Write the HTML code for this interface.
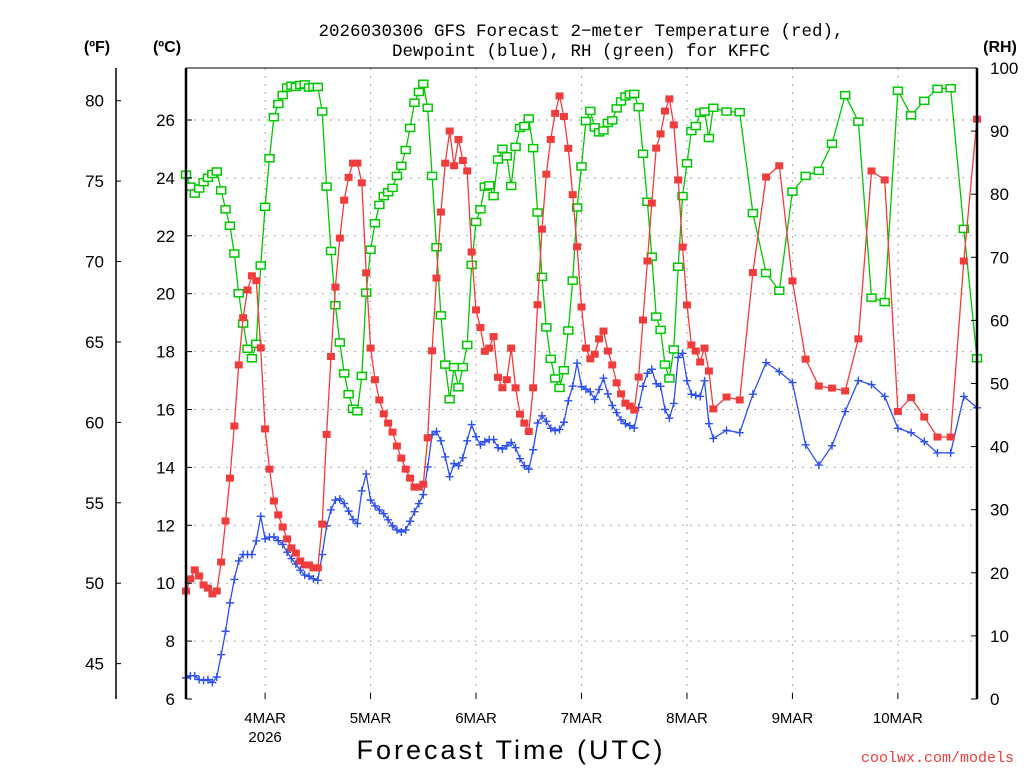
<!DOCTYPE html>
<html><head><meta charset="utf-8"><style>
html,body{margin:0;padding:0;background:#fff;}
svg{display:block;font-family:"Liberation Sans",sans-serif;}
</style></head><body>
<svg id="chart" width="1024" height="768" viewBox="0 0 1024 768">
<g id="grid"></g>
<g id="series"></g>
<g id="axes"></g>
<text x="581" y="36" text-anchor="middle" font-size="17.5" font-family="Liberation Mono, monospace">2026030306 GFS Forecast 2−meter Temperature (red),</text>
<text x="581" y="56" text-anchor="middle" font-size="17.5" font-family="Liberation Mono, monospace">Dewpoint (blue), RH (green) for KFFC</text>
<text x="97" y="52" text-anchor="middle" font-size="16" font-weight="bold">(ºF)</text>
<text x="167" y="52" text-anchor="middle" font-size="16" font-weight="bold">(ºC)</text>
<text x="1000" y="52" text-anchor="middle" font-size="16" font-weight="bold">(RH)</text>
<text x="511" y="759" text-anchor="middle" font-size="27" letter-spacing="3">Forecast Time (UTC)</text>
<text x="1014" y="762" text-anchor="end" font-size="15" fill="#f03c3c" font-family="Liberation Mono, monospace">coolwx.com/models</text>
</svg>
<script>
const hours=[0,1,2,3,4,5,6,7,8,9,10,11,12,13,14,15,16,17,18,19,20,21,22,23,24,25,26,27,28,29,30,31,32,33,34,35,36,37,38,39,40,41,42,43,44,45,46,47,48,49,50,51,52,53,54,55,56,57,58,59,60,61,62,63,64,65,66,67,68,69,70,71,72,73,74,75,76,77,78,79,80,81,82,83,84,85,86,87,88,89,90,91,92,93,94,95,96,97,98,99,100,101,102,103,104,105,106,107,108,109,110,111,112,113,114,115,116,117,118,119,120,123,126,129,132,135,138,141,144,147,150,153,156,159,162,165,168,171,174,177,180];
const tempC=[9.73,10.15,10.46,10.25,9.94,9.83,9.63,9.73,10.73,12.15,13.63,15.43,17.54,19.17,20.13,20.62,20.45,18.13,15.33,13.94,12.84,12.36,11.94,11.53,11.22,11.04,10.77,10.63,10.63,10.53,10.53,
12.04,15.14,17.83,20.23,21.92,23.23,24.02,24.51,24.51,23.83,20.72,18.12,17.03,16.33,15.85,15.53,15.22,14.74,14.32,13.94,13.63,13.32,13.32,13.42,15.02,18.03,20.54,22.82,24.51,25.62,24.42,25.33,
24.60,24.24,21.44,19.44,18.83,18.01,18.12,18.52,17.11,16.75,17.03,18.12,16.75,15.84,15.53,15.24,16.75,19.62,22.23,24.13,25.33,26.23,26.83,26.12,25.02,23.42,21.62,19.54,18.12,17.75,17.91,
18.44,18.71,18.02,17.54,16.92,16.54,16.22,16.12,15.98,17.12,19.09,21.13,23.13,25.03,25.52,26.31,26.73,25.83,23.93,21.61,19.61,18.23,18.02,17.64,18.12,17.33,16.02,
16.43,16.33,20.73,24.03,24.42,20.44,17.74,16.81,16.74,16.64,18.44,24.24,23.93,15.93,16.41,15.74,15.05,15.05,21.13,26.03];
const dewC=[6.73,6.80,6.80,6.67,6.64,6.67,6.57,6.76,7.53,8.34,9.32,10.13,10.77,10.99,10.99,10.99,11.46,12.31,11.53,11.59,11.60,11.47,11.34,11.07,10.85,10.66,10.45,10.28,10.24,10.15,10.10,
10.99,11.98,12.53,12.87,12.91,12.75,12.49,12.20,12.06,13.19,13.77,12.87,12.67,12.53,12.40,12.19,11.98,11.84,11.77,11.84,12.14,12.47,12.75,13.06,14.01,15.13,15.24,14.92,14.36,13.68,14.13,14.06,
14.33,14.92,15.48,15.06,14.78,14.89,14.96,14.96,14.68,14.64,14.75,14.86,14.68,14.30,14.06,13.94,14.61,15.53,15.78,15.59,15.35,15.27,15.31,15.56,16.30,16.81,17.60,16.79,16.70,16.61,16.35,
16.69,17.08,16.54,16.14,15.89,15.64,15.51,15.44,15.36,16.07,16.80,17.25,17.39,16.89,16.80,16.00,15.70,16.21,17.80,17.94,16.99,16.53,16.49,16.45,16.99,15.51,15.00,
15.28,15.20,16.53,17.62,17.31,16.93,14.78,14.08,14.75,15.93,17.00,16.86,16.45,15.35,15.20,14.89,14.50,14.50,16.45,16.06];
const rhPct=[83.1,81.2,80.1,80.9,81.9,82.6,83.2,83.6,80.6,77.6,75.0,70.6,64.3,59.5,55.5,54.0,56.3,68.7,78.0,85.7,92.2,94.3,95.7,96.9,97.2,97.0,97.3,97.4,96.9,97.0,97.0,
93.1,81.2,71.0,62.4,56.5,51.6,48.3,46.0,45.6,51.2,64.4,71.2,75.4,78.3,79.7,80.3,81.0,82.9,84.5,87.0,90.5,94.5,96.2,97.5,93.7,82.9,71.6,60.8,53.0,47.5,52.6,49.4,
52.6,56.1,68.8,75.6,77.6,81.2,81.4,79.7,85.5,87.2,86.0,81.3,87.5,90.5,90.8,92.0,87.3,77.1,66.9,58.9,53.9,50.8,49.3,52.1,58.4,66.3,77.9,84.4,91.6,93.2,90.6,
89.8,90.1,91.3,91.7,93.6,94.7,95.5,95.8,95.9,93.8,86.4,78.8,70.1,60.6,58.5,53.0,50.8,55.4,68.5,79.7,84.9,90.0,90.8,92.9,93.1,88.9,93.7,
93.1,93.0,77.0,67.5,64.7,80.4,82.9,83.7,88.0,95.7,91.5,63.6,62.9,96.4,92.5,94.8,96.7,96.8,74.5,54.0];
const cTicks=[6,8,10,12,14,16,18,20,22,24,26];
const fTicks=[45,50,55,60,65,70,75,80];
const rhTicks=[0,10,20,30,40,50,60,70,80,90,100];
const dayLabels=["4MAR","5MAR","6MAR","7MAR","8MAR","9MAR","10MAR"];
const dayHours=[18,42,66,90,114,138,162];

const NS="http://www.w3.org/2000/svg";
const X0=186,X1=977,Y0=699,Y1=68;
const xS=h=>X0+(h/180)*(X1-X0);
const yC=c=>Y0-(c-6)*28.95;
const yF=f=>yC((f-32)/1.8);
const yRH=r=>Y0-r*(Y0-Y1)/100;
function mk(tag,attrs,parent){const e=document.createElementNS(NS,tag);for(const k in attrs)e.setAttribute(k,attrs[k]);parent.appendChild(e);return e;}
const gridG=document.getElementById('grid'),serG=document.getElementById('series'),axesG=document.getElementById('axes');

cTicks.forEach(c=>{if(c>6){const l=mk('line',{x1:X0,x2:X1,y1:yC(c),y2:yC(c),stroke:'#aaa','stroke-dasharray':'2,6'},gridG);

}});
dayHours.forEach(h=>{const l=mk('line',{x1:xS(h),x2:xS(h),y1:Y1,y2:Y0,stroke:'#aaa','stroke-dasharray':'2,6'},gridG);

});

function drawSeries(vals,yf,color,kind,name){
  const g=mk('g',{},serG);
  
  
  const pts=vals.map((v,i)=>xS(hours[i]).toFixed(1)+','+yf(v).toFixed(1)).join(' ');
  const pl=mk('polyline',{points:pts,fill:'none',stroke:color,'stroke-width':1.3},g);
  
  
  vals.forEach((v,i)=>{const x=xS(hours[i]),y=yf(v);let m;
    if(kind==='fill'){m=mk('rect',{x:x-4,y:y-3.5,width:8,height:7,fill:color},g);}
    else if(kind==='open'){m=mk('rect',{x:x-4.5,y:y-3.5,width:9,height:7,fill:'#fff',stroke:color,'stroke-width':1.5},g);}
    else {m=mk('path',{d:`M${x-4},${y}H${x+4}M${x},${y-4}V${y+4}`,stroke:color,'stroke-width':1.4},g);}
    
    
  });
}
drawSeries(rhPct,yRH,'#00c800','open','rh-series');
drawSeries(dewC,yC,'#2d4ff0','plus','dewpoint-series');
drawSeries(tempC,yC,'#f03c3c','fill','temperature-series');

[X0,X1].forEach(x=>{const l=mk('line',{x1:x,x2:x,y1:Y1,y2:Y0,stroke:'#000','stroke-width':2.5},axesG);

});
const topBorder=mk('line',{x1:X0,x2:X1,y1:Y1,y2:Y1,stroke:'#000','stroke-width':1},axesG);


const fAxis=mk('line',{x1:116,x2:116,y1:Y1,y2:Y0,stroke:'#000','stroke-width':1.5},axesG);


cTicks.forEach(c=>{const t=mk('text',{x:175,y:yC(c)+6,'text-anchor':'end','font-size':17},axesG);t.textContent=c;


mk('line',{x1:X0,x2:X0+6,y1:yC(c),y2:yC(c),stroke:'#000'},axesG);});
fTicks.forEach(f=>{const t=mk('text',{x:104,y:yF(f)+6,'text-anchor':'end','font-size':17},axesG);t.textContent=f;


mk('line',{x1:116,x2:121,y1:yF(f),y2:yF(f),stroke:'#000'},axesG);});
rhTicks.forEach(r=>{const t=mk('text',{x:990,y:yRH(r)+6,'text-anchor':'start','font-size':17},axesG);t.textContent=r;


mk('line',{x1:X1-6,x2:X1,y1:yRH(r),y2:yRH(r),stroke:'#000'},axesG);});
dayLabels.forEach((d,i)=>{const x=xS(dayHours[i]);const t=mk('text',{x:x,y:723,'text-anchor':'middle','font-size':15},axesG);t.textContent=d;


mk('line',{x1:x,x2:x,y1:Y0,y2:Y0-6,stroke:'#000'},axesG);});
const yearLabel=mk('text',{x:xS(18),y:742,'text-anchor':'middle','font-size':15},axesG);yearLabel.textContent='2026';


</script>
</body></html>
